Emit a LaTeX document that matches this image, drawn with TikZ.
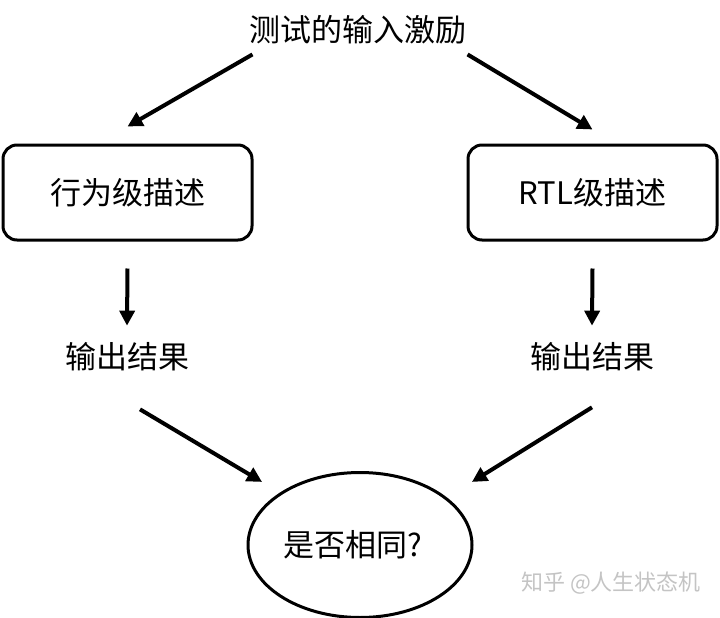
\documentclass[tikz,border=0pt]{standalone}
\usepackage{fontspec}
\setmainfont{Noto Sans CJK SC}
\usepackage{xcolor}
\usetikzlibrary{arrows.meta,positioning,shapes.geometric}
\definecolor{tinta}{HTML}{000000}
\definecolor{marca}{HTML}{C4C4C4}

\begin{document}
\begin{tikzpicture}[x=1pt,y=-1pt,font=\fontsize{31pt}{36pt}\selectfont,
  caja/.style={draw=tinta,line width=3pt,rounded corners=14pt,minimum width=249pt,minimum height=95pt,align=center},
  juicio/.style={draw=tinta,line width=3pt,ellipse,minimum width=224pt,minimum height=145pt,inner sep=0pt},
  txt/.style={text=tinta},
  flecha/.style={-{Triangle[length=15pt,width=15pt]},line width=4pt,tinta},
  marcaagua/.style={text=marca,font=\fontsize{22pt}{26pt}\selectfont}]
\useasboundingbox (0,0) rectangle (720,618);
\node[txt] (estimulo) at (358,30) {测试的输入激励};
\node[caja] (comp) at (127.5,192.5) {行为级描述};
\node[caja] (rtl) at (592.5,192.5) {RTL级描述};
\node[txt] (resA) at (127,357) {输出结果};
\node[txt] (resB) at (592,357) {输出结果};
\node[juicio] (igual) at (360,545) {\hspace*{-14pt}是否相同?};
\node[marcaagua] (firma) at (611,583) {知乎 @人生状态机};
\draw[flecha] ([shift={(6.5pt,-6.5pt)}]estimulo.south west) -- ([yshift=17pt]comp.north);
\draw[flecha] ([shift={(-2.5pt,-6.5pt)}]estimulo.south east) -- ([yshift=14pt]rtl.north);
\draw[flecha] ([yshift=-27pt]comp.south) -- ([yshift=13.5pt]resA.north);
\draw[flecha] ([yshift=-27pt]rtl.south) -- ([yshift=13.5pt]resB.north);
\draw[flecha] ([shift={(13pt,-34.5pt)}]resA.south) -- ([shift={(-13pt,14pt)}]igual.150);
\draw[flecha] ([yshift=-32.5pt]resB.south) -- ([shift={(27pt,14pt)}]igual.30);
\end{tikzpicture}
\end{document}
